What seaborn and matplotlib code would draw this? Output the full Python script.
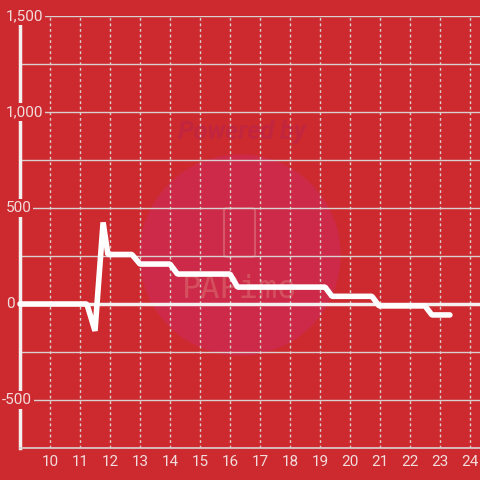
import matplotlib
matplotlib.use("Agg")
import matplotlib.pyplot as plt
import seaborn as sns
from matplotlib.patches import Circle, FancyBboxPatch

# Values
hours = [9.0, 11.23, 11.5, 11.77, 11.93, 12.73, 13.0, 14.0, 14.25, 16.0,
         16.25, 19.17, 19.4, 20.73, 20.97, 22.5, 22.73, 23.33]
values = [0, 0, -140, 425, 258, 258, 208, 208, 156, 156,
          88, 88, 40, 40, -10, -10, -57, -57]
y_ticks = [-500, 0, 500, 1000, 1500]
y_minor = [-750, -250, 250, 750, 1250]
x_ticks = list(range(10, 25))

bg = "#cc2a2f"
label_col = "#f2dcdc"
grid_col = "#d9d0d0"

sns.set_style("white")
plt.rcParams["font.family"] = ["Roboto", "DejaVu Sans"]

fig = plt.figure(figsize=(4.8, 4.8), dpi=100, facecolor=bg)
ax = fig.add_axes([20 / 480, 32 / 480, 460 / 480, 432 / 480])
ax.set_facecolor(bg)

# watermark (behind the grid)
ax.add_patch(Circle((240 / 480, 1 - 255 / 480), 100 / 480, transform=fig.transFigure,
                    color="#cc2a48", zorder=0.5, clip_on=False))
ax.add_patch(FancyBboxPatch((224 / 480, 1 - 257 / 480), 31 / 480, 49 / 480,
                            boxstyle="round,pad=0,rounding_size=0.006",
                            transform=fig.transFigure, fc="none", ec="#d6566a",
                            lw=1.5, zorder=0.6, clip_on=False))
ax.text(242 / 480, 1 - 132 / 480, "Powered by", transform=fig.transFigure,
        color="#c2263f", fontsize=18, fontweight="bold", style="italic",
        ha="center", va="center", zorder=0.6)
ax.text(240 / 480, 1 - 289 / 480, "PAPimo", transform=fig.transFigure,
        color="#d4505f", fontsize=23, family="DejaVu Sans Mono",
        ha="center", va="center", zorder=0.6)

ax.set_xlim(9, 9 + 460 / 30)
ax.set_ylim(-750, 1500)

# grid
for v in y_ticks + y_minor:
    if v == 0:
        continue
    ax.axhline(v, color=grid_col, lw=1.0, zorder=1)
for v in x_ticks:
    ax.axvline(v, color=grid_col, lw=1.0, ls=(0, (2, 2)), zorder=1)
ax.axhline(0, color="#f4f0f0", lw=2.5, zorder=1.5)

sns.lineplot(x=hours, y=values, ax=ax, color="white", linewidth=4.0,
             estimator=None, sort=False, zorder=3)
ax.lines[-1].set_solid_joinstyle("bevel")
ax.lines[-1].set_clip_on(False)

for s in ["top", "right"]:
    ax.spines[s].set_visible(False)
ax.spines["left"].set_color("#f4f0f0")
ax.spines["left"].set_linewidth(2.5)
ax.spines["left"].set_bounds(-750, 1460)
ax.spines["bottom"].set_color(grid_col)
ax.spines["bottom"].set_linewidth(1.2)

ax.set_yticks([])
ax.set_xticks(x_ticks)
ax.set_xticklabels([str(t) for t in x_ticks], color=label_col, fontsize=11)
ax.tick_params(axis="x", length=0, pad=5)

ytrans = ax.get_yaxis_transform().__class__(fig.transFigure, ax.transData)
for v in y_ticks:
    x0 = 2 if v < 0 else 6
    ax.text(x0 / 480, v, f"{v:,}", transform=ytrans,
            color=label_col, fontsize=11, ha="left", va="center", zorder=5,
            bbox=dict(boxstyle="square,pad=0.1", fc=bg, ec="none"))

ax.set_xlabel("")
ax.set_ylabel("")
fig.savefig("out.png", dpi=100, facecolor=bg)
